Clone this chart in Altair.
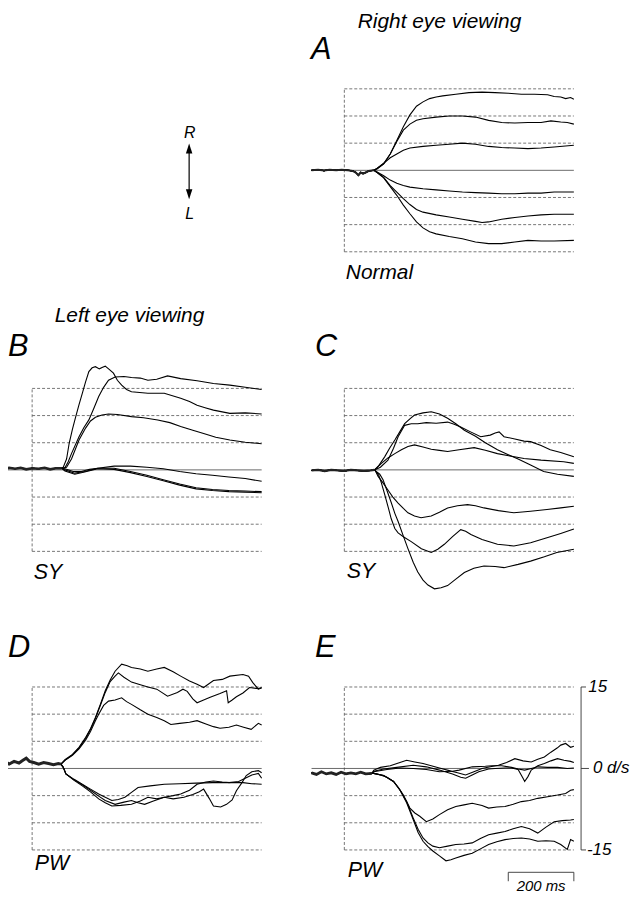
import altair as alt
import pandas as pd

# ---------------- data (time in ms, eye velocity in deg/s) ----------------
A_pre = [(-100, 0.0), (-80, 0.1), (-62, -0.05), (-45, 0.1), (-25, 0.0), (-8, 0.1), (10, 0.0), (25, -0.1),
         (35, -0.4), (43, -0.9), (50, -0.4), (57, -0.6), (65, -0.4), (75, -0.1), (90, 0.0)]
A1 = [(100, 0.3), (120, 1.2), (140, 3.0), (160, 5.5), (180, 8.0), (200, 10.2), (220, 11.8), (240, 12.6),
      (260, 13.2), (280, 13.5), (300, 13.7), (340, 14.0), (380, 14.3), (420, 14.4), (460, 14.3), (500, 14.2),
      (540, 14.0), (580, 14.0), (620, 13.9), (640, 13.6), (660, 13.5), (675, 13.2), (690, 13.4), (700, 13.1)]
A2 = [(100, 0.3), (120, 1.2), (140, 3.0), (160, 5.3), (180, 7.4), (200, 8.5), (220, 9.2), (240, 9.5),
      (280, 9.8), (320, 10.0), (360, 10.0), (400, 9.8), (440, 9.2), (480, 8.8), (520, 8.7), (560, 8.8),
      (600, 8.8), (630, 9.1), (660, 8.9), (680, 8.8), (700, 8.5)]
A3 = [(100, 0.4), (120, 1.3), (140, 2.3), (160, 3.0), (180, 3.7), (200, 4.1), (240, 4.4), (280, 4.6),
      (320, 4.8), (360, 5.0), (400, 4.8), (440, 4.4), (480, 4.2), (520, 4.1), (560, 4.0), (600, 4.1),
      (640, 4.3), (700, 4.6)]
A4 = [(100, -0.3), (120, -1.0), (140, -1.8), (160, -2.4), (180, -2.8), (200, -3.1), (240, -3.4), (280, -3.6),
      (320, -3.8), (360, -4.0), (400, -4.1), (440, -4.2), (480, -4.3), (520, -4.3), (560, -4.2), (600, -4.2),
      (640, -4.0), (700, -4.0)]
A5 = [(100, -0.4), (120, -1.3), (140, -2.8), (160, -4.0), (180, -5.2), (200, -6.3), (220, -7.2), (240, -7.7),
      (280, -8.2), (320, -8.6), (360, -9.0), (400, -9.4), (420, -9.6), (440, -9.5), (480, -9.0), (520, -8.7),
      (560, -8.4), (600, -8.2), (640, -8.1), (700, -8.1)]
A6 = [(100, -0.4), (120, -1.4), (140, -3.0), (160, -4.6), (180, -6.4), (200, -8.0), (220, -9.5), (240, -10.6),
      (260, -11.3), (280, -11.7), (320, -12.2), (360, -12.6), (400, -13.2), (440, -13.5), (480, -13.5),
      (520, -13.2), (560, -12.9), (600, -13.0), (640, -13.0), (700, -12.9)]

B_pre = [(-100, 0.3), (-85, 0.1), (-70, 0.4), (-52, 0.2), (-35, 0.4), (-18, 0.1), (0, 0.3), (20, 0.2),
         (38, 0.4), (55, 0.1), (72, 0.3), (90, 0.3)]
B1 = [(95, 0.5), (105, 2.0), (113, 4.9), (123, 7.5), (133, 9.8), (143, 12.0), (153, 14.1), (163, 16.2),
      (173, 18.1), (183, 18.8), (193, 19.0), (205, 18.6), (215, 18.9), (223, 19.1), (235, 18.5), (248, 17.8),
      (260, 16.5), (273, 15.6), (288, 14.8), (303, 14.4), (353, 14.1), (403, 14.1), (453, 13.2), (480, 12.6),
      (503, 11.9), (530, 11.4), (553, 11.0), (603, 10.4), (650, 10.5), (700, 10.3)]
B2 = [(100, 0.4), (110, 1.5), (120, 3.0), (143, 6.1), (158, 7.8), (173, 9.2), (188, 11.3), (203, 13.5),
      (218, 15.2), (233, 16.5), (253, 17.1), (280, 17.2), (303, 17.0), (330, 16.9), (353, 16.5), (380, 16.7),
      (413, 17.3), (453, 16.8), (503, 16.4), (553, 15.9), (603, 15.6), (650, 15.2), (700, 14.8)]
B3 = [(105, 0.5), (120, 2.0), (143, 5.5), (163, 7.7), (178, 9.0), (193, 9.7), (213, 10.1), (233, 10.3),
      (260, 10.2), (303, 9.8), (340, 9.6), (383, 9.2), (420, 8.7), (453, 8.0), (490, 7.3), (523, 6.7),
      (560, 6.0), (603, 5.5), (650, 5.1), (700, 4.8)]
B4 = [(100, 0.2), (125, -0.3), (150, -0.3), (175, 0.1), (200, 0.3), (250, 0.7), (300, 0.7), (350, 0.5),
      (400, 0.2), (450, -0.3), (500, -0.7), (550, -1.0), (600, -1.3), (650, -1.6), (700, -2.1)]
B5 = [(100, 0.0), (130, -0.6), (160, -0.3), (200, 0.3), (250, 0.3), (300, -0.3), (350, -1.0), (400, -1.8),
      (450, -2.6), (500, -3.3), (550, -3.6), (600, -3.8), (650, -3.9), (700, -4.0)]
B6 = [(100, -0.2), (130, -0.8), (160, -0.4), (200, 0.2), (250, 0.1), (300, -0.5), (350, -1.2), (400, -2.0),
      (450, -2.8), (500, -3.5), (550, -3.8), (600, -4.0), (650, -4.1), (700, -4.2)]

C_pre = [(-100, -0.1), (-80, 0.0), (-60, -0.2), (-40, 0.0), (-20, -0.1), (0, -0.2), (20, 0.0), (40, -0.1),
         (60, -0.2), (80, -0.1), (92, 0.0)]
C1 = [(105, 0.8), (123, 2.4), (138, 4.0), (154, 5.5), (169, 7.0), (184, 8.5), (200, 9.4), (214, 10.1),
      (240, 10.5), (265, 10.7), (290, 10.3), (315, 9.5), (340, 8.5), (366, 7.3), (400, 6.2), (430, 5.0),
      (467, 3.7), (500, 2.8), (530, 2.0), (568, 0.9), (608, -0.3), (650, -0.8), (700, -1.2)]
C2 = [(110, 0.5), (133, 1.8), (150, 4.0), (164, 6.1), (184, 8.2), (204, 8.5), (224, 8.5), (250, 8.7),
      (280, 8.6), (315, 8.8), (335, 8.4), (355, 7.9), (385, 7.0), (416, 6.1), (445, 6.4), (460, 6.8),
      (472, 7.0), (487, 6.1), (520, 5.7), (548, 5.3), (568, 5.2), (600, 4.5), (628, 3.7), (660, 3.2), (700, 2.4)]
C3 = [(100, 0.4), (113, 1.2), (133, 2.2), (154, 3.0), (174, 3.7), (194, 4.3), (214, 4.6), (240, 4.2),
      (265, 3.8), (290, 3.6), (315, 3.4), (350, 3.7), (396, 4.1), (430, 3.6), (467, 3.0), (510, 2.5),
      (548, 2.1), (600, 1.8), (669, 1.5), (700, 1.2)]
C4 = [(95, -0.2), (103, -1.2), (118, -2.4), (133, -3.7), (148, -5.0), (164, -6.1), (180, -7.1), (194, -7.9),
      (214, -8.5), (234, -8.8), (265, -8.5), (290, -7.8), (315, -7.0), (345, -6.6), (376, -6.4), (400, -6.6),
      (426, -7.0), (470, -7.5), (517, -7.9), (568, -7.6), (618, -7.3), (660, -7.0), (700, -6.7)]
C5 = [(95, -0.2), (105, -1.0), (113, -2.4), (123, -4.5), (133, -6.7), (143, -9.0), (154, -10.8), (164, -11.6),
      (180, -12.3), (204, -13.2), (235, -14.5), (265, -15.2), (285, -14.6), (305, -13.7), (330, -12.3),
      (355, -11.0), (370, -11.3), (386, -11.9), (420, -12.8), (467, -13.7), (517, -14.0), (568, -13.4),
      (618, -12.5), (660, -11.7), (700, -10.9)]
C6 = [(95, -0.2), (108, -0.8), (118, -1.8), (130, -3.8), (143, -6.0), (154, -8.0), (164, -9.5), (180, -12.2),
      (194, -14.5), (210, -17.0), (224, -18.8), (240, -20.3), (255, -21.2), (275, -21.9), (295, -21.7),
      (315, -21.3), (340, -20.1), (366, -18.9), (395, -18.1), (426, -17.7), (460, -17.8), (487, -18.0),
      (530, -17.4), (568, -16.8), (610, -16.0), (648, -15.2), (700, -14.6)]

D_pre = [(-100, 1.0), (-85, 1.4), (-70, 0.8), (-55, 1.3), (-40, 1.0), (-28, 1.5), (-18, 1.9), (-8, 1.3),
         (5, 1.1), (20, 0.8), (35, 1.1), (50, 0.9), (65, 0.7), (80, 0.9), (88, 0.8)]
D1 = [(100, 1.6), (123, 2.6), (143, 3.9), (163, 5.7), (178, 7.3), (193, 9.4), (208, 11.8), (223, 14.3),
      (238, 16.3), (253, 17.9), (273, 19.2), (290, 18.9), (303, 18.6), (330, 18.3), (353, 17.9), (380, 18.3),
      (403, 18.6), (430, 17.8), (453, 17.0), (480, 16.1), (503, 15.5), (523, 14.9), (553, 16.2), (580, 16.4),
      (603, 17.0), (643, 17.3), (660, 17.0), (673, 15.8), (690, 14.6), (700, 14.8)]
D2 = [(100, 1.5), (123, 2.5), (143, 3.8), (163, 5.5), (178, 7.2), (193, 9.2), (208, 11.6), (223, 14.0),
      (238, 16.0), (253, 17.0), (263, 17.6), (280, 16.8), (303, 15.9), (330, 15.4), (353, 15.0), (380, 14.6),
      (413, 13.3), (443, 14.0), (460, 14.6), (473, 14.2), (490, 12.8), (503, 12.1), (523, 12.6), (543, 13.1),
      (573, 13.8), (593, 14.3), (598, 12.1), (610, 12.6), (623, 13.2), (643, 13.9), (663, 14.9), (690, 14.7),
      (700, 14.9)]
D3 = [(100, 1.5), (123, 2.4), (143, 3.6), (163, 5.2), (178, 6.8), (193, 8.8), (203, 10.0), (218, 11.6),
      (233, 12.4), (253, 12.6), (273, 13.0), (288, 12.3), (303, 11.8), (330, 10.8), (353, 10.0), (380, 9.4),
      (403, 8.8), (423, 8.1), (450, 8.3), (480, 8.5), (503, 8.8), (530, 8.2), (553, 7.7), (573, 7.4),
      (600, 7.6), (623, 8.0), (645, 7.6), (668, 7.2), (690, 8.3), (700, 8.0)]
D4 = [(95, 0.2), (103, -1.0), (128, -2.0), (153, -2.9), (178, -3.8), (203, -4.7), (223, -5.3), (243, -5.9),
      (263, -5.7), (283, -5.3), (303, -4.4), (323, -3.5), (360, -3.2), (403, -2.9), (450, -2.8), (500, -2.7),
      (550, -2.6), (600, -2.6), (630, -2.4), (653, -1.7), (670, -1.2), (690, -0.9), (700, -1.8)]
D5 = [(95, 0.2), (103, -1.0), (128, -2.2), (153, -3.2), (178, -4.3), (203, -5.6), (223, -6.3), (243, -6.9),
      (270, -6.8), (303, -6.6), (330, -6.0), (353, -5.3), (380, -5.6), (403, -5.3), (430, -5.0), (453, -4.7),
      (480, -4.0), (503, -2.9), (530, -2.5), (553, -2.3), (580, -2.5), (603, -2.6), (643, -2.6), (670, -2.8),
      (700, -2.9)]
D6 = [(95, 0.2), (103, -1.0), (128, -2.1), (153, -3.0), (178, -4.0), (203, -5.1), (223, -5.9), (253, -6.6),
      (280, -6.2), (303, -5.9), (323, -6.3), (343, -6.6), (370, -6.0), (403, -5.3), (430, -5.6), (463, -5.3),
      (490, -4.8), (510, -4.3), (523, -3.8), (540, -5.5), (553, -6.9), (575, -7.1), (593, -6.6), (610, -5.8),
      (623, -4.1), (640, -2.6), (653, -1.3), (670, -0.6), (690, -0.4), (700, -0.8)]

E_pre = [(-100, -0.8), (-85, -1.1), (-70, -0.6), (-55, -1.0), (-40, -0.8), (-25, -1.1), (-10, -0.7),
         (5, -1.0), (20, -0.8), (35, -1.0), (50, -0.7), (65, -1.0), (84, -0.9)]
E1 = [(90, -0.3), (110, 0.2), (140, 0.5), (165, 1.0), (190, 1.5), (215, 1.2), (240, 0.9), (265, 0.5),
      (290, 0.1), (320, -0.4), (345, -0.8), (370, -1.2), (395, -0.6), (420, 0.0), (445, 0.3), (470, 0.6),
      (495, 1.1), (520, 1.8), (545, 1.4), (570, 1.2), (590, 1.7), (610, 2.1), (630, 3.0), (650, 3.8),
      (660, 4.3), (675, 4.6), (690, 3.9), (700, 4.1)]
E2 = [(90, -0.5), (120, -0.1), (160, 0.2), (210, 0.6), (250, 0.3), (290, -0.3), (330, -1.0), (355, -1.6),
      (370, -1.8), (390, -1.2), (410, -0.6), (440, -0.1), (460, 0.0), (490, 0.1), (510, 0.1), (530, -0.2),
      (545, -1.8), (550, -2.4), (560, -1.5), (570, -0.3), (590, 0.5), (610, 0.9), (630, 1.4), (650, 1.8),
      (670, 1.5), (690, 1.3), (700, 1.1)]
E3 = [(90, -0.6), (130, -0.2), (170, 0.1), (210, 0.0), (250, -0.2), (290, -0.6), (330, -0.5), (350, -0.3),
      (390, 0.3), (430, 0.4), (450, 0.5), (480, 0.5), (510, 0.2), (530, -0.1), (550, -0.3), (570, 0.0),
      (590, 0.3), (620, 0.2), (650, 0.2), (680, 0.0), (700, 0.1)]
E4 = [(90, -0.9), (110, -1.2), (130, -1.6), (150, -2.4), (165, -3.5), (180, -4.9), (190, -6.1), (200, -7.3),
      (215, -8.2), (230, -8.8), (250, -9.8), (270, -9.3), (290, -8.5), (315, -7.6), (340, -7.0), (365, -6.7),
      (390, -6.4), (420, -6.8), (440, -7.3), (465, -7.1), (490, -7.0), (515, -6.6), (540, -6.1), (565, -5.9),
      (590, -5.5), (620, -5.2), (650, -4.9), (675, -4.6), (690, -4.0), (700, -3.9)]
E5 = [(90, -0.9), (120, -1.3), (150, -2.4), (170, -4.0), (190, -6.1), (210, -9.1), (225, -11.2), (240, -12.8),
      (255, -13.7), (270, -14.3), (290, -14.6), (315, -14.3), (340, -14.0), (365, -13.9), (390, -13.7),
      (415, -12.9), (440, -12.2), (465, -11.9), (490, -11.6), (515, -11.1), (540, -10.7), (565, -11.1),
      (590, -11.9), (615, -10.8), (640, -9.8), (665, -9.6), (690, -9.5), (700, -9.4)]
E6 = [(90, -0.9), (120, -1.3), (150, -2.4), (170, -4.0), (190, -6.3), (210, -9.4), (225, -11.8), (240, -13.4),
      (255, -14.4), (270, -15.2), (290, -16.1), (310, -17.0), (325, -16.8), (340, -16.5), (365, -16.0),
      (390, -15.6), (415, -14.8), (440, -14.0), (465, -13.5), (490, -13.1), (515, -12.9), (540, -12.8),
      (565, -13.0), (590, -13.4), (615, -13.3), (640, -13.4), (660, -14.0), (680, -14.9), (690, -13.1),
      (700, -13.4)]

grid_levels = [15, 10, 5, -5, -10, -15]
box_ms = [0, 700]
box_range = [-15, 15]
zero_ms = [-100, 700]
axis_values = [15, 0, -15]
axis_labels = ["15", "0 d/s", "-15"]
scale_bar_ms = [500, 700]

# ---------------- layout ----------------
FONT = "Liberation Sans"
KX = 0.33          # px per ms
KY = 82.0 / 15.0   # px per deg/s
W_L, W_R = 292, 285
ROWS = [(0, 282), (282, 315), (597, 287)]   # (top, height) in chart px
ZERO = [160.5, 462.0, 762.5]                # zero-velocity line per row, chart px
T_LEFT_L = -73.6
T_LEFT_R = -140.9


def frame(pre, traces):
    rows = []
    for i, tr in enumerate(traces):
        for t, v in pre + tr:
            rows.append({"trace": i, "t": t, "v": v})
    return pd.DataFrame(rows)


def txt(label, x, y, size, align="left", baseline="alphabetic"):
    return alt.Chart(alt.Data(values=[{"k": 0}])).mark_text(
        text=label, font=FONT, fontSize=size, fontStyle="italic", align=align,
        baseline=baseline, color="black").encode(x=alt.value(x), y=alt.value(y))


def panel(pre, traces, row, right, texts, base_w=2.2, extra=()):
    top, h = ROWS[row]
    z = ZERO[row]
    w = W_R if right else W_L
    tl = T_LEFT_R if right else T_LEFT_L
    xs = alt.Scale(domain=[tl, tl + w / KX], nice=False, zero=False)
    ys = alt.Scale(domain=[-(top + h - z) / KY, (z - top) / KY], nice=False, zero=False)
    X = lambda f: alt.X(f, type="quantitative", scale=xs, axis=None)
    Y = lambda f: alt.Y(f, type="quantitative", scale=ys, axis=None)
    grid = alt.Chart(pd.DataFrame({"v": grid_levels, "t": box_ms[0], "t2": box_ms[1]})).mark_rule(
        strokeDash=[3, 2], color="#555555", strokeWidth=0.8).encode(x=X("t"), x2="t2", y=Y("v"))
    vert = alt.Chart(pd.DataFrame({"t": [box_ms[0]], "v": [box_range[0]], "v2": [box_range[1]]})).mark_rule(
        strokeDash=[3, 2], color="#555555", strokeWidth=0.8).encode(x=X("t"), y=Y("v"), y2="v2")
    zero = alt.Chart(pd.DataFrame({"t": [zero_ms[0]], "t2": [zero_ms[1]], "v": [0]})).mark_rule(
        color="#444444", strokeWidth=0.8, clip=True).encode(x=X("t"), x2="t2", y=Y("v"))
    lines = alt.Chart(frame(pre, traces)).mark_line(color="#000000", strokeWidth=1.1, clip=True).encode(
        x=X("t"), y=Y("v"), detail="trace:N")
    base = alt.Chart(frame(pre, [[]])).mark_line(color="#222222", strokeWidth=base_w, clip=True).encode(
        x=X("t"), y=Y("v"))
    layers = [grid, vert, zero, lines, base] + [e(X, Y) for e in extra] + list(texts)
    return alt.layer(*layers).properties(width=w, height=h)


def e_axis(X, Y):
    ax_t = 722
    line = alt.Chart(pd.DataFrame({"t": [ax_t], "v": [box_range[0]], "v2": [box_range[1]]})).mark_rule(
        color="#333333", strokeWidth=0.9).encode(x=X("t"), y=Y("v"), y2="v2")
    ticks = alt.Chart(pd.DataFrame({"t": ax_t, "t2": [ax_t + 15, ax_t + 24, ax_t + 15], "v": axis_values})).mark_rule(
        color="#333333", strokeWidth=0.9).encode(x=X("t"), x2="t2", y=Y("v"))
    labs = alt.Chart(pd.DataFrame({"v": axis_values, "label": axis_labels,
                                   "t": [ax_t + 22, ax_t + 36, ax_t + 18]})).mark_text(
        font=FONT, fontSize=17, fontStyle="italic", align="left", baseline="middle", color="black").encode(
        x=X("t"), y=Y("v"), text="label:N")
    return alt.layer(line, ticks, labs)


def e_scalebar(X, Y):
    bar = alt.Chart(pd.DataFrame({"t": [scale_bar_ms[0]], "t2": [scale_bar_ms[1]]})).mark_rule(
        color="#333333", strokeWidth=0.9).encode(x=X("t"), x2="t2", y=alt.value(270))
    ends = alt.Chart(pd.DataFrame({"t": scale_bar_ms})).mark_rule(
        color="#333333", strokeWidth=0.9).encode(x=X("t"), y=alt.value(270), y2=alt.value(279))
    lab = alt.Chart(pd.DataFrame({"t": [sum(scale_bar_ms) / 2]})).mark_text(
        text="200 ms", font=FONT, fontSize=15, fontStyle="italic", align="center", color="black").encode(
        x=X("t"), y=alt.value(284))
    return alt.layer(bar, ends, lab)


# arrow / legend panel (top-left)
arrow_x = 182.3
arrow = alt.layer(
    alt.Chart(alt.Data(values=[{"k": 0}])).mark_rule(color="black", strokeWidth=1.2).encode(
        x=alt.value(arrow_x), y=alt.value(140), y2=alt.value(184)),
    alt.Chart(alt.Data(values=[{"k": 0}])).mark_point(
        shape="M0,-1L0.65,1L-0.65,1Z", filled=True, size=100, color="black", opacity=1).encode(
        x=alt.value(arrow_x), y=alt.value(138.5)),
    alt.Chart(alt.Data(values=[{"k": 0}])).mark_point(
        shape="M0,1L0.65,-1L-0.65,-1Z", filled=True, size=100, color="black", opacity=1).encode(
        x=alt.value(arrow_x), y=alt.value(184.5)),
    txt("R", arrow_x + 0.5, 128, 16, align="center"),
    txt("L", arrow_x + 0.5, 209, 16, align="center"),
).properties(width=W_L, height=ROWS[0][1])

pA = panel(A_pre, [A1, A2, A3, A4, A5, A6], 0, True,
           [txt("Right eye viewing", 60, 17, 21), txt("A", 13, 48, 31), txt("Normal", 48, 270, 21)],
           base_w=2.0)
pB = panel(B_pre, [B1, B2, B3, B4, B5, B6], 1, False,
           [txt("Left eye viewing", 47, 31, 21), txt("B", 0, 65, 31), txt("SY", 26, 290, 21.5)],
           base_w=2.6)
pC = panel(C_pre, [C1, C2, C3, C4, C5, C6], 1, True,
           [txt("C", 17, 65, 31), txt("SY", 49, 289, 21.5)], base_w=2.3)
pD = panel(D_pre, [D1, D2, D3, D4, D5, D6], 2, False,
           [txt("D", 0, 53, 31), txt("PW", 27, 268, 21.5)], base_w=3.0)
pE = panel(E_pre, [E1, E2, E3, E4, E5, E6], 2, True,
           [txt("E", 17, 53, 31), txt("PW", 50, 275, 21.5)], base_w=2.8, extra=(e_axis, e_scalebar))

chart = alt.concat(arrow, pA, pB, pC, pD, pE, columns=2, spacing=0, bounds="flush").configure_view(
    stroke=None).properties(padding=0, background="white")

chart.save("out.html", embed_options={"renderer": "svg", "actions": False})
